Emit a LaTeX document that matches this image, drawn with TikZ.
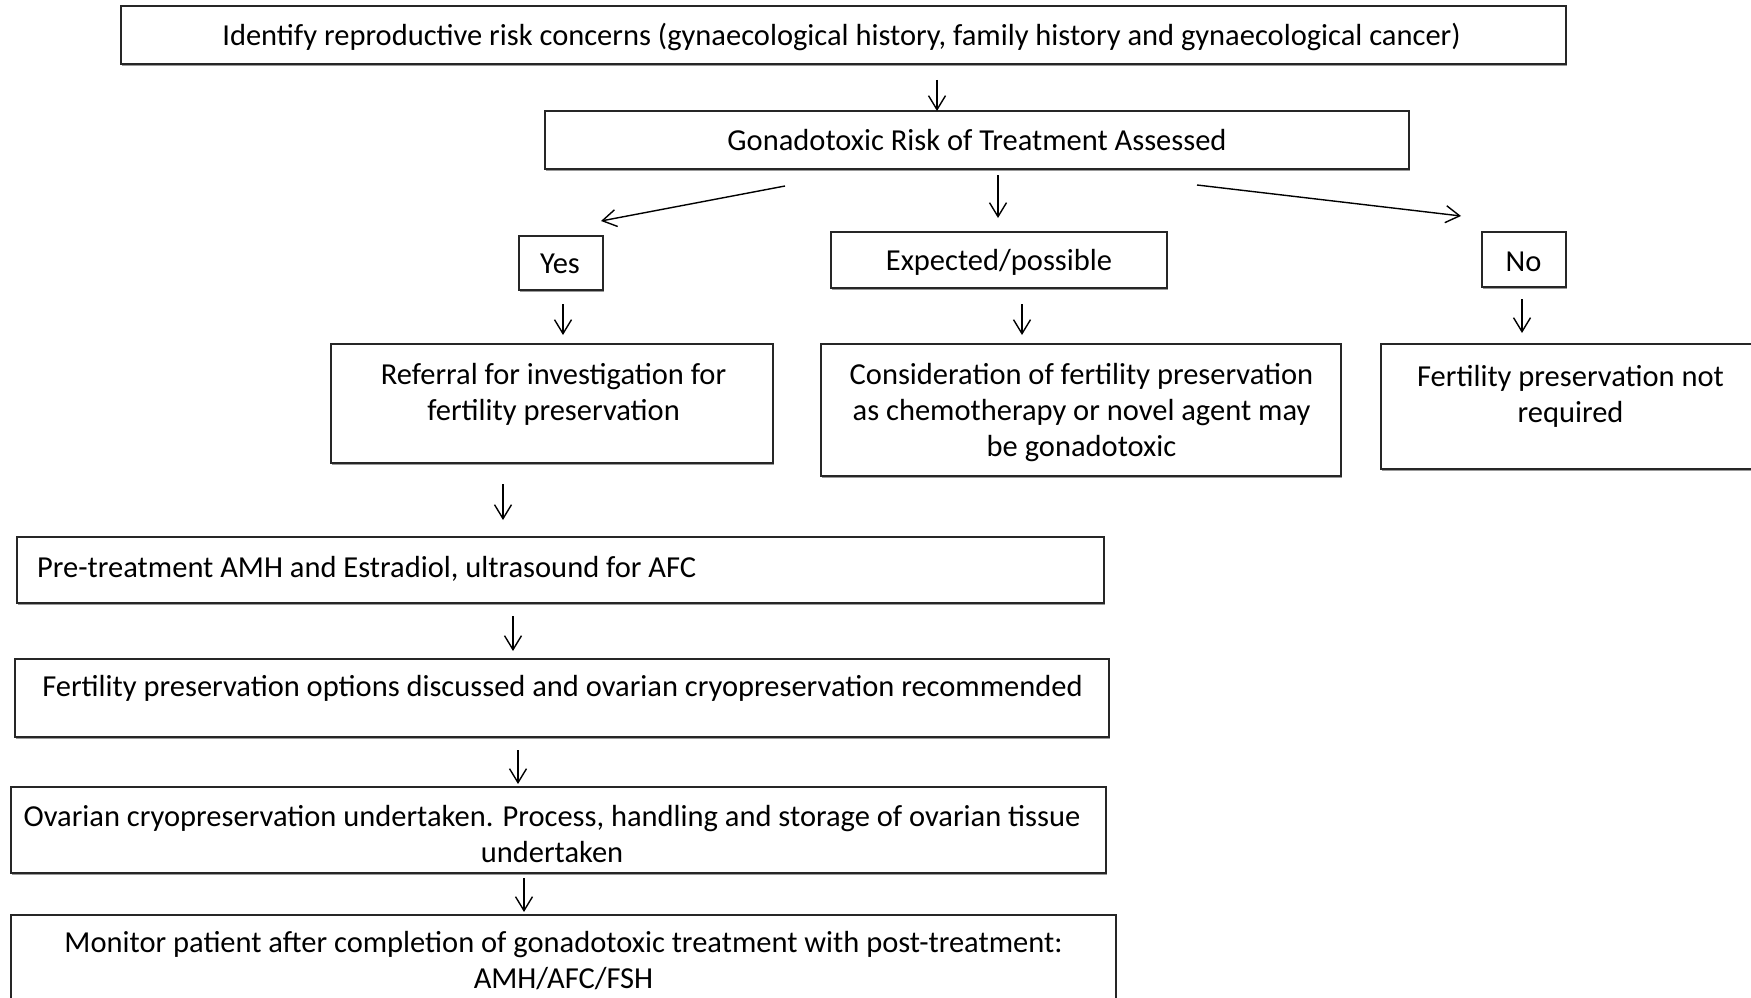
\documentclass[tikz,border=0pt]{standalone}
\usepackage{fontspec}
\setmainfont{Carlito}
\usetikzlibrary{arrows.meta,shadows}
\begin{document}
\begin{tikzpicture}[x=1pt,y=-1pt,
  box/.style={draw=black!85, line width=1.3pt, fill=white, inner sep=0pt,
    drop shadow={shadow xshift=1.2pt, shadow yshift=-2.2pt, fill=black!40, opacity=1}},
  txt/.style={font=\fontsize{30.5}{36}\selectfont, align=center, inner sep=0pt, text=black},
  flow/.style={line width=1.4pt, -{Straight Barb[length=14pt,width=17pt,line width=1.4pt]}}]
\useasboundingbox (0,0) rectangle (1751,998);
\clip (0,0) rectangle (1751,998);

% boxes
\node[box, minimum width=1445, minimum height=58] (b1) at (843.5,35) {};
\node[box, minimum width=864, minimum height=58] (b2) at (977,140) {};
\node[box, minimum width=84, minimum height=54] (yes) at (561,263) {};
\node[box, minimum width=336, minimum height=56] (exp) at (999,260) {};
\node[box, minimum width=84, minimum height=55] (no) at (1524,259.5) {};
\node[box, minimum width=442, minimum height=119] (ref) at (552,403.5) {};
\node[box, minimum width=520, minimum height=132] (con) at (1081,410) {};
\node[box, minimum width=419, minimum height=125] (nreq) at (1590.5,406.5) {};
\node[box, minimum width=1087, minimum height=66] (pre) at (560.5,570) {};
\node[box, minimum width=1094, minimum height=78] (opt) at (562,698) {};
\node[box, minimum width=1095, minimum height=86] (ova) at (558.5,830) {};
\node[box, minimum width=1105, minimum height=105] (mon) at (563.5,967.5) {};

% texts
\node[txt] (t1) at (841.5,37) {Identify reproductive risk concerns (gynaecological history, family history and gynaecological cancer)};
\node[txt] (t2) at (977,140) {Gonadotoxic Risk of Treatment Assessed};
\node[txt] (tyes) at (560,264) {Yes};
\node[txt] (texp) at (999,262) {Expected/possible};
\node[txt] (tno) at (1523.5,262) {No};
\node[txt] (tref) at (553.5,394) {Referral for investigation for\\fertility preservation};
\node[txt] (tcon) at (1081.5,413) {Consideration of fertility preservation\\as chemotherapy or novel agent may\\be gonadotoxic};
\node[txt] (tnreq) at (1570.5,396.5) {Fertility preservation not\\required};
\node[txt, anchor=west] (tpre) at (37,569) {Pre-treatment AMH and Estradiol, ultrasound for AFC};
\node[txt] (topt) at (562.5,688) {Fertility preservation options discussed and ovarian cryopreservation recommended};
\node[txt] (tova) at (552,834) {Ovarian cryopreservation undertaken. Process, handling and storage of ovarian tissue\\undertaken};
\node[txt] (tmon) at (563.5,960.5) {Monitor patient after completion of gonadotoxic treatment with post-treatment:\\AMH/AFC/FSH};

% arrow end points
\coordinate (a1s) at (937,80);   \coordinate (a1e) at (937,111);
\coordinate (aLs) at (785,186);  \coordinate (aLe) at (601,221);
\coordinate (aCs) at (998,175);  \coordinate (aCe) at (998,218);
\coordinate (aRs) at (1197,185); \coordinate (aRe) at (1461,216);
\coordinate (aYs) at (563,304);  \coordinate (aYe) at (563,335);
\coordinate (aEs) at (1022,304); \coordinate (aEe) at (1022,335);
\coordinate (aNs) at (1522,299); \coordinate (aNe) at (1522,333);
\coordinate (a4s) at (503,484);  \coordinate (a4e) at (503,520);
\coordinate (a5s) at (513,616);  \coordinate (a5e) at (513,651);
\coordinate (a6s) at (518,750);  \coordinate (a6e) at (518,784);
\coordinate (a7s) at (524,878);  \coordinate (a7e) at (524,912);

% arrows
\foreach \a in {a1,aL,aC,aR,aY,aE,aN,a4,a5,a6,a7}
  \draw[flow] (\a s) -- (\a e);
\end{tikzpicture}
\end{document}
